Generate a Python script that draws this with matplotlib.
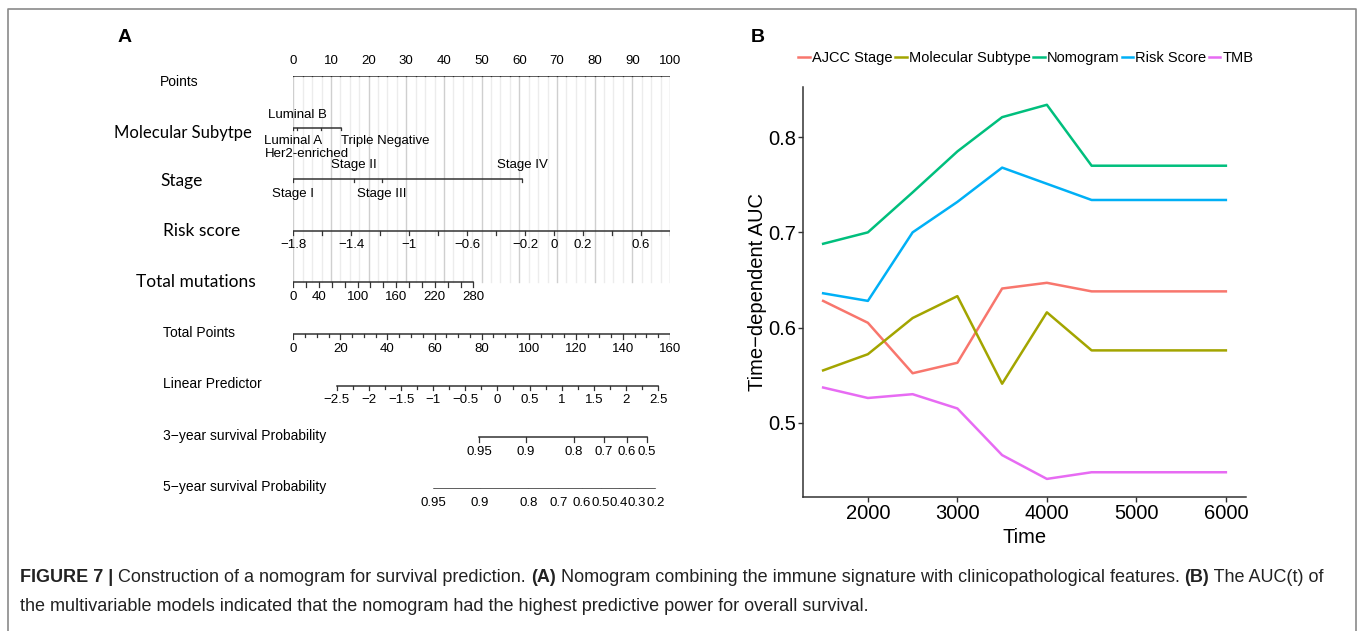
import numpy as np
import matplotlib
matplotlib.use("Agg")
import matplotlib.pyplot as plt
from matplotlib.lines import Line2D

W, H = 1360, 631

# ---------------- panel B: time-dependent AUC ----------------
times = [1500, 2000, 2500, 3000, 3500, 4000, 4500, 5000, 5500, 6000]
auc_ajcc = [0.628, 0.605, 0.552, 0.563, 0.641, 0.647, 0.638, 0.638, 0.638, 0.638]
auc_subtype = [0.555, 0.572, 0.610, 0.633, 0.541, 0.616, 0.576, 0.576, 0.576, 0.576]
auc_nomogram = [0.688, 0.700, 0.742, 0.785, 0.821, 0.834, 0.770, 0.770, 0.770, 0.770]
auc_risk = [0.636, 0.628, 0.700, 0.732, 0.768, 0.751, 0.734, 0.734, 0.734, 0.734]
auc_tmb = [0.537, 0.526, 0.530, 0.515, 0.466, 0.441, 0.448, 0.448, 0.448, 0.448]
model_names = ["AJCC Stage", "Molecular Subtype", "Nomogram", "Risk Score", "TMB"]
model_colors = ["#F8766D", "#A3A500", "#00BF7D", "#00B0F6", "#E76BF3"]

# ---------------- panel A: nomogram ----------------
subtype_levels = ["Luminal A", "Luminal B", "Her2-enriched", "Triple Negative"]
subtype_points = [0, 1.1, 7.3, 12.7]
stage_levels = ["Stage I", "Stage II", "Stage III", "Stage IV"]
stage_points = [0, 16.1, 23.5, 60.8]
risk_range = [-1.8, 0.8]          # risk score mapped onto 0-100 points
risk_ticks = [-1.8, -1.6, -1.4, -1.2, -1.0, -0.8, -0.6, -0.4, -0.2, 0.0, 0.2, 0.4, 0.6, 0.8]
risk_labels = [-1.8, -1.4, -1, -0.6, -0.2, 0, 0.2, 0.6]
mut_max = 280
mut_max_points = 47.8
mut_ticks = [0, 20, 40, 60, 80, 100, 120, 140, 160, 180, 200, 220, 240, 260, 280]
mut_labels = [0, 40, 100, 160, 220, 280]
total_labels = [0, 20, 40, 60, 80, 100, 120, 140, 160]
lp_labels = [-2.5, -2, -1.5, -1, -0.5, 0, 0.5, 1, 1.5, 2, 2.5]
lp_tp0 = 86.7      # total points at linear predictor 0
lp_slope = 27.3    # total points per unit of linear predictor
surv3_labels = [0.95, 0.9, 0.8, 0.7, 0.6, 0.5]
surv5_labels = [0.95, 0.9, 0.8, 0.7, 0.6, 0.5, 0.4, 0.3, 0.2]
log_h0_3y = -2.69  # log baseline cumulative hazard
log_h0_5y = -1.98

row_names = ["Points", "Molecular Subytpe", "Stage", "Risk score", "Total mutations",
             "Total Points", "Linear Predictor", "3\u2212year survival Probability",
             "5\u2212year survival Probability"]

MAX_TOTAL = 160.0
base = "Liberation Sans"
calib = "Lato"


def fmt(v):
    return ("%g" % v).replace("-", "\u2212")


def tp_x(tp):
    # total points -> points-axis units
    return np.asarray(tp) * 100.0 / MAX_TOTAL


def surv_tp(p, log_h0):
    lp = np.log(-np.log(np.asarray(p))) - log_h0
    return lp_tp0 + lp_slope * lp


fig = plt.figure(figsize=(W / 100, H / 100), dpi=100)

# frame around the figure panels
fig.add_artist(Line2D([8 / W, 8 / W, 1356 / W, 1356 / W], [0, 1 - 9 / H, 1 - 9 / H, 0],
                      color="#8a8a8a", lw=1.2))

# ---- nomogram axes: x in points (0-100), y in rows
x0, x1, yt, yb = 293.3, 670.0, 76.0, 489.0
ax = fig.add_axes([x0 / W, 1 - yb / H, (x1 - x0) / W, (yb - yt) / H])
ax.set_xlim(0, 100)
ax.set_ylim(8, 0)
ax.axis("off")
row_px = (yb - yt) / 8
tl = 4.5 / row_px
tls = 2.8 / row_px
lab_off = 14.5 / row_px
fs = 9.5
ink = "#333333"

# grid
minor = np.arange(0, 100.01, 2.5)
for g in minor:
    major = abs(g / 10 - round(g / 10)) < 1e-9
    ax.plot([g, g], [0, 4], color="#cfcfcf" if major else "#ececec", lw=1.0, zorder=0)

# points axis
ax.plot([0, 100], [0, 0], color=ink, lw=1.1)
for g in minor:
    major = abs(g / 10 - round(g / 10)) < 1e-9
    ax.plot([g, g], [0, -(tl if major else tls)], color=ink, lw=0.9)
    if major:
        ax.text(g, -lab_off, "%d" % g, ha="center", va="center", fontsize=fs, family=base)

# molecular subtype
ax.plot([min(subtype_points), max(subtype_points)], [1, 1], color=ink, lw=1.1)
for p in subtype_points:
    ax.plot([p, p], [1, 1 + tls], color=ink, lw=0.9)
sub_pos = [(0, 1 + lab_off * 0.9, "center"), (1.1, 1 - lab_off * 0.9, "center"),
           (3.6, 1 + 1.8 * lab_off, "center"), (12.7, 1 + lab_off * 0.9, "left")]
for name, (px, py, ha) in zip(subtype_levels, sub_pos):
    ax.text(px, py, name, ha=ha, va="center", fontsize=fs, family=base)

# stage
ax.plot([min(stage_points), max(stage_points)], [2, 2], color=ink, lw=1.1)
for i, (p, name) in enumerate(zip(stage_points, stage_levels)):
    ax.plot([p, p], [2, 2 + tls], color=ink, lw=0.9)
    off = lab_off if i % 2 == 0 else -lab_off
    ax.text(p, 2 + off, name, ha="center", va="center", fontsize=fs, family=base)


# risk score
def risk_x(r):
    return (np.asarray(r) - risk_range[0]) / (risk_range[1] - risk_range[0]) * 100


ax.plot([0, 100], [3, 3], color=ink, lw=1.1)
for r in risk_ticks:
    ax.plot([risk_x(r)] * 2, [3, 3 + tl], color=ink, lw=0.9)
for r in risk_labels:
    ax.text(risk_x(r), 3 + lab_off, fmt(r), ha="center", va="center", fontsize=fs, family=base)


# total mutations
def mut_x(m):
    return np.asarray(m) / mut_max * mut_max_points


ax.plot([0, mut_x(mut_max)], [4, 4], color=ink, lw=1.1)
for m in mut_ticks:
    ax.plot([mut_x(m)] * 2, [4, 4 + tl], color=ink, lw=0.9)
for m in mut_labels:
    ax.text(mut_x(m), 4 + lab_off, "%d" % m, ha="center", va="center", fontsize=fs, family=base)

# total points
ax.plot([0, 100], [5, 5], color=ink, lw=1.1)
for t in np.arange(0, MAX_TOTAL + 0.1, 5):
    big = t % 20 == 0
    ax.plot([tp_x(t)] * 2, [5, 5 + (tl if big else tls)], color=ink, lw=0.9)
for t in total_labels:
    ax.text(tp_x(t), 5 + lab_off, "%d" % t, ha="center", va="center", fontsize=fs, family=base)

# linear predictor
lp_x = tp_x(lp_tp0 + lp_slope * np.asarray(lp_labels))
ax.plot([lp_x[0], lp_x[-1]], [6, 6], color=ink, lw=1.1)
for v in np.arange(lp_labels[0], lp_labels[-1] + 0.01, 0.25):
    big = abs(v * 2 - round(v * 2)) < 1e-9
    xv = tp_x(lp_tp0 + lp_slope * v)
    ax.plot([xv, xv], [6, 6 + (tl if big else tls)], color=ink, lw=0.9)
for v, xv in zip(lp_labels, lp_x):
    ax.text(xv, 6 + lab_off, fmt(v), ha="center", va="center", fontsize=fs, family=base)

# survival probabilities
for row, labels, lh in [(7, surv3_labels, log_h0_3y), (8, surv5_labels, log_h0_5y)]:
    xs = tp_x(surv_tp(labels, lh))
    ax.plot([xs[0], xs[-1]], [row, row], color=ink, lw=1.1)
    for v, xv in zip(labels, xs):
        ax.plot([xv, xv], [row, row + tl], color=ink, lw=0.9)
        ax.text(xv, row + lab_off, "%g" % v, ha="center", va="center", fontsize=fs, family=base)

# row titles (figure pixel layout)
title_pos = [(160, "left", base, 10, 6), (183, "center", calib, 12, 5), (160, "left", calib, 12.5, 2),
             (163, "left", calib, 12.5, 0), (196, "center", calib, 12.5, 0), (163, "left", base, 10, -1),
             (163, "left", base, 10, -2), (163, "left", base, 10, -1), (163, "left", base, 10, -2)]
for i, (name, (px, ha, fam, size, dy)) in enumerate(zip(row_names, title_pos)):
    ypx = yt + i * row_px + dy
    fig.text(px / W, 1 - ypx / H, name, ha=ha, va="center", fontsize=size, family=fam)

fig.text(125 / W, 1 - 38 / H, "A", ha="center", va="center", fontsize=14, fontweight="bold", family=base)
fig.text(758 / W, 1 - 38 / H, "B", ha="center", va="center", fontsize=14, fontweight="bold", family=base)

# ---- AUC axes
bl, br, bt, bb = 803, 1246, 86.7, 497
axb = fig.add_axes([bl / W, 1 - bb / H, (br - bl) / W, (bb - bt) / H])
series = [auc_ajcc, auc_subtype, auc_nomogram, auc_risk, auc_tmb]
for vals, name, col in zip(series, model_names, model_colors):
    axb.plot(times, vals, color=col, lw=1.8, label=name)
axb.set_xlim(1275, 6225)
axb.set_ylim(0.422, 0.853)
axb.set_xticks([2000, 3000, 4000, 5000, 6000])
axb.set_yticks([0.5, 0.6, 0.7, 0.8])
axb.set_yticklabels(["0.5", "0.6", "0.7", "0.8"])
for s in ["top", "right"]:
    axb.spines[s].set_visible(False)
for s in ["left", "bottom"]:
    axb.spines[s].set_color(ink)
    axb.spines[s].set_linewidth(1.1)
axb.tick_params(length=3.5, width=1.0, color=ink, labelsize=14.5, pad=1.5)
for lab in axb.get_xticklabels() + axb.get_yticklabels():
    lab.set_family(base)
axb.set_xlabel("Time", fontsize=14.5, family=base)
axb.set_ylabel("Time\u2212dependent AUC", fontsize=14.5, family=base)
axb.xaxis.set_label_coords(0.5, -(528 - bb) / (bb - bt))
axb.yaxis.set_label_coords(-(bl - 767) / (br - bl), 0.5)

handles = [Line2D([], [], color=c, lw=1.8) for c in model_colors]
fig.legend(handles, model_names, loc="center", bbox_to_anchor=(1026 / W, 1 - 58 / H), ncol=5,
           frameon=False, handlelength=0.8, handletextpad=0.15, columnspacing=0.15,
           prop={"family": base, "size": 10.5}, borderpad=0)

# ---- caption with bold runs
cap_size = 13.0


def text_runs(x, y, runs):
    r = fig.canvas.get_renderer()
    for s, weight in runs:
        fig.text(x / W, 1 - y / H, s, fontsize=cap_size, fontweight=weight, family=base,
                 va="baseline", color="#222222")
        t1 = fig.text(0, 0, s + "|", fontsize=cap_size, fontweight=weight, family=base)
        t2 = fig.text(0, 0, "|", fontsize=cap_size, fontweight=weight, family=base)
        x += t1.get_window_extent(r).width - t2.get_window_extent(r).width
        t1.remove()
        t2.remove()


text_runs(20, 582, [("FIGURE 7 |", "bold"),
                    (" Construction of a nomogram for survival prediction. ", "normal"),
                    ("(A)", "bold"),
                    (" Nomogram combining the immune signature with clinicopathological features. ", "normal"),
                    ("(B)", "bold"),
                    (" The AUC(t) of", "normal")])
text_runs(20, 611, [("the multivariable models indicated that the nomogram had the highest predictive power for overall survival.", "normal")])

fig.savefig("out.png", dpi=100)
